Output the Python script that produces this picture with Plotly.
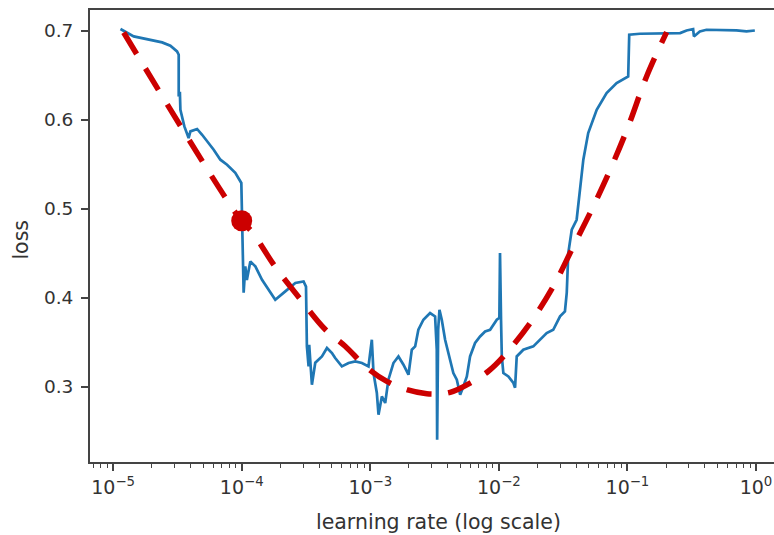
import plotly.graph_objects as go

# Blue learning-rate finder curve (log10 of learning rate, loss)
log_lr = [-4.943, -4.840, -4.619, -4.555, -4.503, -4.490, -4.490, -4.481, -4.477, -4.446,
          -4.413, -4.399, -4.347, -4.308, -4.218, -4.166, -4.114, -4.050, -4.003, -3.995,
          -3.985, -3.972, -3.960, -3.933, -3.894, -3.842, -3.739, -3.661, -3.583, -3.519,
          -3.500, -3.493, -3.480, -3.475, -3.454, -3.428, -3.376, -3.337, -3.298, -3.273,
          -3.221, -3.169, -3.117, -3.065, -3.014, -2.988, -2.975, -2.949, -2.936, -2.910,
          -2.884, -2.859, -2.820, -2.781, -2.742, -2.703, -2.677, -2.651, -2.626, -2.587,
          -2.535, -2.496, -2.483, -2.480, -2.472, -2.462, -2.444, -2.418, -2.379, -2.354,
          -2.327, -2.301, -2.276, -2.249, -2.224, -2.185, -2.146, -2.107, -2.068, -2.016,
          -1.996, -1.991, -1.983, -1.977, -1.965, -1.926, -1.887, -1.874, -1.861, -1.810,
          -1.732, -1.680, -1.628, -1.577, -1.524, -1.486, -1.472, -1.460, -1.433, -1.395,
          -1.369, -1.343, -1.305, -1.239, -1.162, -1.084, -0.994, -0.986, -0.903, -0.695,
          -0.590, -0.540, -0.489, -0.483, -0.437, -0.385, -0.280, -0.152, -0.074, -0.009]
loss = [0.7019, 0.6936, 0.6869, 0.6831, 0.6767, 0.6730, 0.6262, 0.6315, 0.6112, 0.5925,
        0.5794, 0.5869, 0.5896, 0.5831, 0.5663, 0.5551, 0.5494, 0.5404, 0.5289, 0.4764,
        0.4056, 0.4352, 0.4200, 0.4408, 0.4352, 0.4202, 0.3978, 0.4071, 0.4165, 0.4183,
        0.4124, 0.3453, 0.3228, 0.3470, 0.3022, 0.3270, 0.3340, 0.3435, 0.3379, 0.3322,
        0.3228, 0.3266, 0.3284, 0.3266, 0.3228, 0.3528, 0.3154, 0.2929, 0.2685, 0.2891,
        0.2817, 0.3079, 0.3266, 0.3340, 0.3247, 0.3135, 0.3416, 0.3453, 0.3640, 0.3753,
        0.3828, 0.3790, 0.3416, 0.2404, 0.3640, 0.3865, 0.3753, 0.3528, 0.3303, 0.3154,
        0.3079, 0.2910, 0.3003, 0.3116, 0.3340, 0.3491, 0.3565, 0.3621, 0.3640, 0.3753,
        0.3775, 0.4502, 0.3750, 0.3340, 0.3154, 0.3116, 0.3042, 0.2989, 0.3340, 0.3416,
        0.3453, 0.3528, 0.3603, 0.3640, 0.3790, 0.3846, 0.4053, 0.4502, 0.4764, 0.4876,
        0.5251, 0.5551, 0.5851, 0.6112, 0.6300, 0.6412, 0.6487, 0.6955, 0.6966, 0.6974,
        0.6974, 0.7003, 0.7019, 0.6936, 0.6992, 0.7011, 0.7011, 0.7003, 0.6992, 0.7003]

# Red dashed guide curve
guide_log_lr = [-4.918, -4.003, -3.920, -3.739, -3.558, -3.350, -3.195, -3.026, -2.871,
                -2.716, -2.560, -2.457, -2.379, -2.224, -2.082, -1.965, -1.758, -1.577,
                -1.421, -1.266, -1.123, -0.994, -0.851, -0.695]
guide_loss = [0.698, 0.4865, 0.474, 0.4346, 0.4009, 0.3643, 0.3455, 0.3214, 0.3059,
              0.2966, 0.2921, 0.2921, 0.2936, 0.3041, 0.3174, 0.3338, 0.3712, 0.4126,
              0.4576, 0.5025, 0.5475, 0.5924, 0.6486, 0.6985]

# Marked point
point_lr = [1e-4]
point_loss = [0.4865]

major_ticks = [1e-5, 1e-4, 1e-3, 1e-2, 1e-1, 1e0]
major_labels = ["10<sup>\u22125</sup>", "10<sup>\u22124</sup>", "10<sup>\u22123</sup>",
                "10<sup>\u22122</sup>", "10<sup>\u22121</sup>", "10<sup>0</sup>"]
y_ticks = [0.3, 0.4, 0.5, 0.6, 0.7]
y_labels = ["0.3", "0.4", "0.5", "0.6", "0.7"]

lr = [10 ** v for v in log_lr]
guide_lr = [10 ** v for v in guide_log_lr]
minor_ticks = [m * 10 ** e for e in range(-6, 1) for m in range(2, 10)]

fig = go.Figure()
fig.add_trace(go.Scatter(x=lr, y=loss, mode="lines",
                         line=dict(color="#1f77b4", width=2.7), hoverinfo="skip"))
fig.add_trace(go.Scatter(x=guide_lr, y=guide_loss, mode="lines",
                         line=dict(color="#cc0000", width=5.5, dash="25px,17px", shape="spline"),
                         hoverinfo="skip"))
fig.add_trace(go.Scatter(x=point_lr, y=point_loss, mode="markers",
                         marker=dict(color="#cc0000", size=21), hoverinfo="skip"))

axis_color = "#444444"
font = dict(family="DejaVu Sans", size=18, color="#333333")
fig.update_layout(
    width=774, height=535,
    margin=dict(l=90, r=0, t=10, b=73),
    paper_bgcolor="white", plot_bgcolor="white",
    showlegend=False,
    font=font,
    xaxis=dict(type="log", range=[-5.180, 0.140], showgrid=False, zeroline=False,
               showline=True, linecolor=axis_color, linewidth=2, mirror=True,
               ticks="outside", ticklen=7, tickwidth=1.5, tickcolor=axis_color,
               tickmode="array", tickvals=major_ticks, ticktext=major_labels,
               tickfont=dict(size=19),
               minor=dict(tickmode="array", tickvals=minor_ticks, ticks="outside",
                          ticklen=4, tickwidth=1.2, tickcolor=axis_color)),
    yaxis=dict(range=[0.2154, 0.7233], showgrid=False, zeroline=False,
               showline=True, linecolor=axis_color, linewidth=2,
               ticks="outside", ticklen=7, tickwidth=1.5, tickcolor=axis_color,
               tickmode="array", tickvals=y_ticks, ticktext=y_labels,
               tickfont=dict(size=18.5), ticklabelstandoff=4),
    annotations=[
        dict(text="learning rate (log scale)", xref="paper", yref="paper", x=0.51, y=-0.1327,
             xanchor="center", yanchor="middle", showarrow=False,
             font=dict(family="DejaVu Sans", size=20.5, color="#333333")),
        dict(text="loss", xref="paper", yref="paper", x=-0.1001, y=0.491, textangle=-90,
             xanchor="center", yanchor="middle", showarrow=False,
             font=dict(family="DejaVu Sans", size=20.5, color="#333333")),
    ],
)

fig.write_html("out.html")
